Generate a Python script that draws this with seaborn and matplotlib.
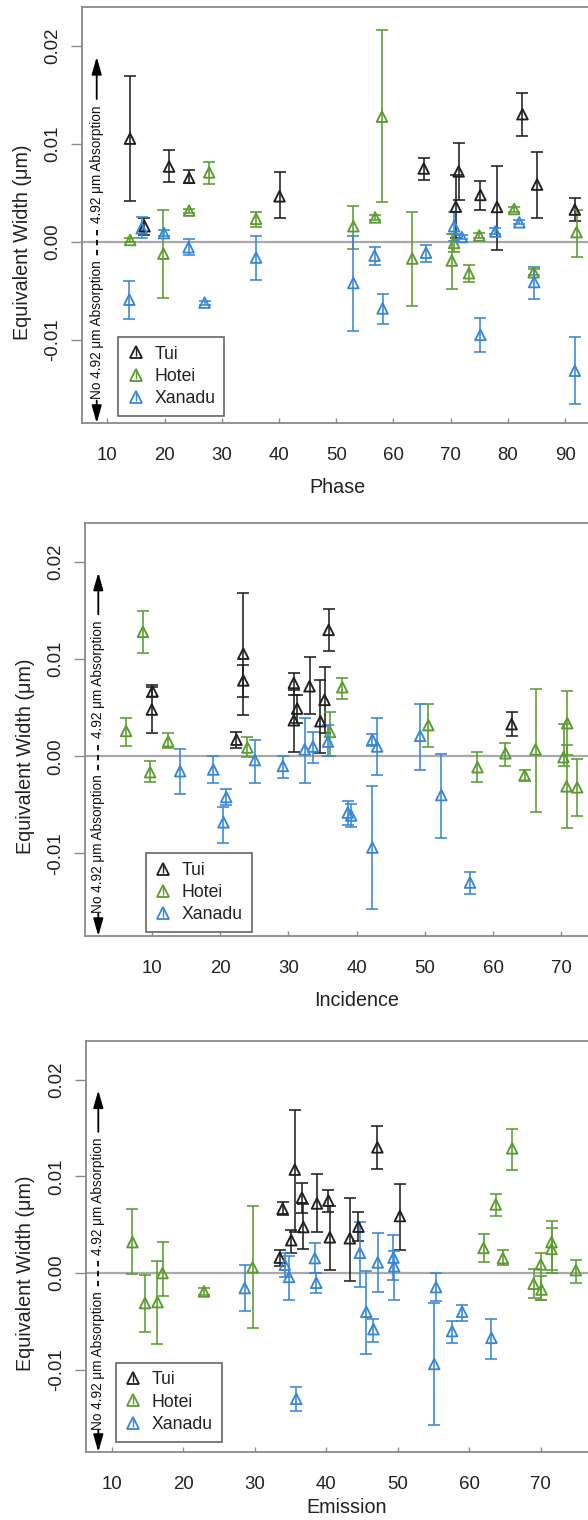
import matplotlib
matplotlib.use("Agg")
import matplotlib.pyplot as plt
import seaborn as sns
import numpy as np
import pandas as pd
from matplotlib.lines import Line2D

# ---------------- data ----------------
TARGETS = ["Tui", "Hotei", "Xanadu"]

# Phase panel
PHASE_TUI_X = [13.97, 16.5, 20.8, 24.3, 40.1, 65.3, 70.9, 71.4, 75.2, 78.1, 82.55, 85.1, 91.7]
PHASE_TUI_Y = [0.01055, 0.0016, 0.0077, 0.00655, 0.00466, 0.0075, 0.0036, 0.0072, 0.0048, 0.00357, 0.01305, 0.00586, 0.0033]
PHASE_TUI_LO = [0.00414, 0.0007, 0.0061, 0.0060, 0.0024, 0.0063, 0.0004, 0.0043, 0.0033, -0.0008, 0.0108, 0.0024, 0.0021]
PHASE_TUI_HI = [0.0169, 0.0024, 0.0094, 0.0073, 0.0071, 0.0086, 0.0068, 0.0101, 0.0062, 0.0078, 0.0152, 0.0092, 0.0045]

PHASE_HOTEI_X = [14.0, 19.8, 24.3, 27.8, 36.0, 53.0, 56.8, 58.0, 63.3, 70.2, 70.6, 73.2, 75.0, 81.1, 84.5, 92.0]
PHASE_HOTEI_Y = [0.0002, -0.0012, 0.0032, 0.0071, 0.00236, 0.0016, 0.0025, 0.0128, -0.0017, -0.0019, -0.0001, -0.0032, 0.00065, 0.00336, -0.0031, 0.0010]
PHASE_HOTEI_LO = [0.0000, -0.0057, 0.0030, 0.0059, 0.0015, -0.0007, 0.0022, 0.0041, -0.0065, -0.0048, -0.0010, -0.0041, 0.0004, 0.0031, -0.0034, -0.0015]
PHASE_HOTEI_HI = [0.0004, 0.0033, 0.0034, 0.0082, 0.0031, 0.0037, 0.0028, 0.0216, 0.0031, 0.0008, 0.0008, -0.0024, 0.0009, 0.0036, -0.0028, 0.0033]

PHASE_XANADU_X = [13.85, 16.0, 19.9, 24.2, 27.0, 36.0, 53.0, 56.7, 58.1, 65.7, 70.6, 71.95, 75.2, 77.8, 82.0, 84.6, 91.7]
PHASE_XANADU_Y = [-0.0059, 0.0014, 0.0009, -0.00055, -0.0062, -0.0016, -0.0042, -0.0014, -0.0068, -0.0011, 0.0016, 0.0005, -0.0095, 0.00106, 0.0020, -0.0041, -0.01316]
PHASE_XANADU_LO = [-0.0079, 0.0004, 0.0006, -0.0013, -0.0064, -0.0039, -0.0091, -0.0024, -0.0084, -0.0021, 0.0001, 0.0003, -0.0112, 0.0008, 0.0018, -0.0058, -0.0166]
PHASE_XANADU_HI = [-0.0040, 0.0025, 0.0012, 0.0003, -0.0060, 0.0006, 0.0006, -0.0005, -0.0053, -0.0003, 0.0031, 0.0007, -0.0078, 0.0014, 0.0022, -0.0026, -0.0097]

# Incidence panel
INC_TUI_X = [23.4, 22.4, 23.4, 10.1, 10.0, 30.8, 30.8, 33.1, 31.3, 34.7, 35.9, 35.3, 62.7]
INC_TUI_Y = [0.01055, 0.0017, 0.0078, 0.00668, 0.0048, 0.00754, 0.0037, 0.0072, 0.0049, 0.0036, 0.0130, 0.0058, 0.0033]
INC_TUI_LO = [0.0042, 0.0008, 0.0061, 0.0061, 0.0024, 0.0063, 0.0004, 0.0043, 0.0034, 0.0003, 0.0108, 0.0024, 0.0021]
INC_TUI_HI = [0.0168, 0.0025, 0.0094, 0.0073, 0.0071, 0.0086, 0.0068, 0.0102, 0.0063, 0.0078, 0.0152, 0.0092, 0.0045]

INC_HOTEI_X = [6.23, 8.7, 9.75, 12.4, 24.0, 36.1, 37.9, 50.5, 57.7, 61.8, 64.6, 66.2, 70.3, 70.85, 70.75, 72.3]
INC_HOTEI_Y = [0.0026, 0.0128, -0.00164, 0.00154, 0.0009, 0.0025, 0.0071, 0.0032, -0.00113, 0.0003, -0.00195, 0.0007, -0.0001, 0.0034, -0.0031, -0.0032]
INC_HOTEI_LO = [0.0011, 0.0106, -0.0027, 0.0008, -0.0001, 0.0000, 0.0059, 0.0009, -0.0027, -0.0010, -0.0026, -0.0057, -0.0010, 0.0001, -0.0074, -0.0062]
INC_HOTEI_HI = [0.0039, 0.0149, -0.0005, 0.0024, 0.0020, 0.0046, 0.0081, 0.0054, 0.0004, 0.0014, -0.0014, 0.0069, 0.0033, 0.0067, 0.0012, -0.0003]

INC_XANADU_X = [14.15, 19.0, 20.9, 20.5, 25.1, 29.2, 32.4, 33.6, 35.8, 38.7, 39.2, 42.3, 42.3, 43.0, 49.3, 52.4, 56.6]
INC_XANADU_Y = [-0.00154, -0.00137, -0.0042, -0.0068, -0.0004, -0.0010, 0.0007, 0.0010, 0.0015, -0.0058, -0.0061, 0.0017, -0.0094, 0.0010, 0.0021, -0.0040, -0.0130]
INC_XANADU_LO = [-0.0039, -0.0028, -0.0050, -0.0089, -0.0028, -0.0022, -0.0028, -0.0007, 0.0000, -0.0071, -0.0073, 0.0011, -0.0157, -0.0019, -0.0014, -0.0084, -0.0142]
INC_XANADU_HI = [0.00076, 0.0000, -0.0034, -0.0052, 0.0017, 0.0000, 0.0039, 0.0025, 0.0032, -0.0046, -0.0049, 0.0023, -0.0031, 0.0039, 0.0054, 0.0002, -0.0119]

# Emission panel
EMI_TUI_X = [35.6, 33.5, 36.6, 33.9, 36.8, 40.3, 40.5, 38.7, 44.5, 43.3, 47.15, 50.3, 35.1]
EMI_TUI_Y = [0.0107, 0.0016, 0.0078, 0.00665, 0.00476, 0.0075, 0.0037, 0.0072, 0.0048, 0.0036, 0.0130, 0.0059, 0.0034]
EMI_TUI_LO = [0.0043, 0.0007, 0.0062, 0.0060, 0.0025, 0.0063, 0.0003, 0.0042, 0.0033, -0.0008, 0.0108, 0.0024, 0.0021]
EMI_TUI_HI = [0.0169, 0.0024, 0.0093, 0.0073, 0.0071, 0.0086, 0.0069, 0.0102, 0.0063, 0.0078, 0.0152, 0.0092, 0.0045]

EMI_HOTEI_X = [12.9, 14.65, 16.4, 17.1, 22.9, 29.7, 62.0, 63.7, 64.7, 66.0, 69.0, 70.0, 70.1, 71.5, 71.5, 74.9]
EMI_HOTEI_Y = [0.0032, -0.0031, -0.0030, 0.0000, -0.0019, 0.0006, 0.0026, 0.0071, 0.00155, 0.0129, -0.0011, 0.0009, -0.0017, 0.0032, 0.0025, 0.0003]
EMI_HOTEI_LO = [-0.0001, -0.0061, -0.0073, -0.0024, -0.0023, -0.0057, 0.0011, 0.0059, 0.0008, 0.0107, -0.0026, -0.0028, -0.0028, 0.0000, 0.0003, -0.0010]
EMI_HOTEI_HI = [0.0066, -0.0002, 0.0012, 0.0032, -0.0015, 0.0069, 0.0040, 0.0082, 0.0024, 0.0149, 0.0004, 0.0021, -0.0003, 0.0054, 0.0047, 0.0014]

EMI_XANADU_X = [28.6, 34.2, 34.8, 35.8, 38.6, 38.4, 44.7, 47.2, 49.4, 49.5, 45.6, 46.6, 55.35, 55.1, 57.6, 59.0, 63.1]
EMI_XANADU_Y = [-0.00155, 0.00086, -0.0004, -0.0130, -0.0010, 0.00155, 0.0021, 0.0011, 0.0016, 0.0007, -0.0040, -0.0058, -0.00145, -0.0094, -0.0060, -0.0040, -0.0067]
EMI_XANADU_LO = [-0.0039, -0.0004, -0.0028, -0.0143, -0.0021, 0.0000, -0.0014, -0.0020, -0.0007, -0.0028, -0.0084, -0.0071, -0.0029, -0.0157, -0.0072, -0.0050, -0.0089]
EMI_XANADU_HI = [0.0008, 0.0021, 0.0018, -0.0118, 0.0000, 0.0031, 0.0053, 0.0041, 0.0039, 0.0023, 0.0002, -0.0047, 0.0000, -0.0031, -0.0050, -0.0033, -0.0047]

Y_TICKS = [-0.01, 0.0, 0.01, 0.02]
Y_TICK_LABELS = ["-0.01", "0.00", "0.01", "0.02"]
PHASE_TICKS = [10, 20, 30, 40, 50, 60, 70, 80, 90]
INC_TICKS = [10, 20, 30, 40, 50, 60, 70]
EMI_TICKS = [10, 20, 30, 40, 50, 60, 70]

# ---------------- style ----------------
COLORS = {"Tui": "#1f1f1f", "Hotei": "#5b9b2f", "Xanadu": "#3787d9"}
sns.set_theme(style="white")
plt.rcParams["font.family"] = ["Liberation Sans", "DejaVu Sans"]

W, H = 588, 1520
fig = plt.figure(figsize=(W / 100, H / 100), dpi=100)


def rect(left, right, top, bottom):
    return [left / W, 1 - bottom / H, (right - left) / W, (bottom - top) / H]


def frame(xs, ys, los, his):
    parts = []
    for t, x, y, lo, hi in zip(TARGETS, xs, ys, los, his):
        parts.append(pd.DataFrame({"Target": t, "x": x, "y": y, "lo": lo, "hi": hi}))
    return pd.concat(parts, ignore_index=True)


panels = [
    dict(rect=rect(82, 592, 7, 423), xlim=(5.58, 94.7), ticks=PHASE_TICKS, xlabel="Phase",
         df=frame([PHASE_TUI_X, PHASE_HOTEI_X, PHASE_XANADU_X],
                  [PHASE_TUI_Y, PHASE_HOTEI_Y, PHASE_XANADU_Y],
                  [PHASE_TUI_LO, PHASE_HOTEI_LO, PHASE_XANADU_LO],
                  [PHASE_TUI_HI, PHASE_HOTEI_HI, PHASE_XANADU_HI]),
         leg=(0.0706, 0.0168), ylab_x=-0.116, xlab_y=-0.154, ann_px=14.7),
    dict(rect=rect(85.3, 627, 523, 936), xlim=(0.26, 79.6), ticks=INC_TICKS, xlabel="Incidence",
         df=frame([INC_TUI_X, INC_HOTEI_X, INC_XANADU_X],
                  [INC_TUI_Y, INC_HOTEI_Y, INC_XANADU_Y],
                  [INC_TUI_LO, INC_HOTEI_LO, INC_XANADU_LO],
                  [INC_TUI_HI, INC_HOTEI_HI, INC_XANADU_HI]),
         leg=(0.1115, 0.009), ylab_x=-0.111, xlab_y=-0.155, ann_px=13.0),
    dict(rect=rect(85.7, 608, 1041, 1452), xlim=(6.36, 79.4), ticks=EMI_TICKS, xlabel="Emission",
         df=frame([EMI_TUI_X, EMI_HOTEI_X, EMI_XANADU_X],
                  [EMI_TUI_Y, EMI_HOTEI_Y, EMI_XANADU_Y],
                  [EMI_TUI_LO, EMI_HOTEI_LO, EMI_XANADU_LO],
                  [EMI_TUI_HI, EMI_HOTEI_HI, EMI_XANADU_HI]),
         leg=(0.0574, 0.025), ylab_x=-0.116, xlab_y=-0.134, ann_px=12.6),
]

YLIM = (-0.0185, 0.0240)
SPINE = "#8a8a8a"

for p in panels:
    ax = fig.add_axes(p["rect"])
    df = p["df"]
    ax.axhline(0, color="#a9a9a9", lw=1.6, zorder=1)
    for t in TARGETS:
        sub = df[df["Target"] == t]
        yerr = [np.maximum(0, sub["y"] - sub["lo"]), np.maximum(0, sub["hi"] - sub["y"])]
        ax.errorbar(sub["x"], sub["y"], yerr=yerr, fmt="none", ecolor=COLORS[t],
                    elinewidth=1.15, capsize=4.6, capthick=1.15, zorder=2)
        sns.scatterplot(data=sub, x="x", y="y", color=COLORS[t], marker="^", s=58,
                        linewidth=1.35, legend=False, ax=ax, zorder=3)
        coll = ax.collections[-1]
        coll.set_edgecolors(COLORS[t])
        coll.set_facecolors("none")

    ax.set_xlim(*p["xlim"])
    ax.set_ylim(*YLIM)
    ax.set_xticks(p["ticks"])
    ax.set_xticklabels([str(v) for v in p["ticks"]])
    ax.set_yticks(Y_TICKS)
    ax.set_yticklabels(Y_TICK_LABELS)
    for s in ax.spines.values():
        s.set_color(SPINE)
        s.set_linewidth(1.3)
    ax.tick_params(axis="y", left=True, direction="out", length=8, width=1.0, color=SPINE,
                   pad=7, labelsize=13.4, labelcolor="#222222", labelrotation=90)
    ax.tick_params(axis="x", bottom=True, direction="in", length=3.5, width=1.0, color=SPINE,
                   pad=17, labelsize=13.4, labelcolor="#222222")
    for lab in ax.get_yticklabels():
        lab.set_verticalalignment("center")

    ax.set_xlabel(p["xlabel"], fontsize=14.2, color="#222222")
    ax.xaxis.set_label_coords(0.5, p["xlab_y"])
    ax.xaxis.label.set_verticalalignment("center")
    ax.set_ylabel("Equivalent Width (μm)", fontsize=14.2, color="#222222")
    y0 = (0 - YLIM[0]) / (YLIM[1] - YLIM[0])
    ax.yaxis.set_label_coords(p["ylab_x"], y0)
    ax.yaxis.label.set_verticalalignment("center")

    # absorption annotation on the left
    x0, x1 = p["xlim"]
    axw = p["rect"][2] * W
    xa = x0 + p["ann_px"] / axw * (x1 - x0)
    ax.annotate("", xy=(xa, 0.0189), xytext=(xa, 0.0146),
                arrowprops=dict(arrowstyle="-|>,head_length=1.05,head_width=0.3",
                                color="black", lw=1.3, shrinkA=0, shrinkB=0, mutation_scale=10))
    ax.annotate("", xy=(xa, YLIM[0]), xytext=(xa, -0.0162),
                arrowprops=dict(arrowstyle="-|>,head_length=1.05,head_width=0.3",
                                color="black", lw=1.3, shrinkA=0, shrinkB=0, mutation_scale=10))
    ax.text(xa, 0.0079, "4.92 μm Absorption", rotation=90, ha="center", va="center",
            fontsize=9.8, color="#111111")
    ax.text(xa, -0.0090, "No 4.92 μm Absorption", rotation=90, ha="center", va="center",
            fontsize=9.8, color="#111111")
    ax.plot([xa, xa], [0.0012, -0.0015], color="black", lw=1.3, ls=(0, (3, 2.5)), zorder=2)

    handles = [(Line2D([], [], marker="^", mfc="none", mec=COLORS[t], ms=8.6, mew=1.3, ls=""),
                Line2D([], [], marker="|", color=COLORS[t], ms=6.0, mew=1.0, ls=""))
               for t in TARGETS]
    leg = ax.legend(handles, TARGETS, loc="lower left", bbox_to_anchor=p["leg"], borderaxespad=0,
                    frameon=True, fancybox=False, edgecolor="#666666", framealpha=1,
                    fontsize=12.7, handlelength=1.0, handletextpad=0.55, labelspacing=0.3,
                    borderpad=0.5)
    leg.get_frame().set_linewidth(1.2)
    for txt in leg.get_texts():
        txt.set_color("#222222")

fig.savefig("out.png", dpi=100)
